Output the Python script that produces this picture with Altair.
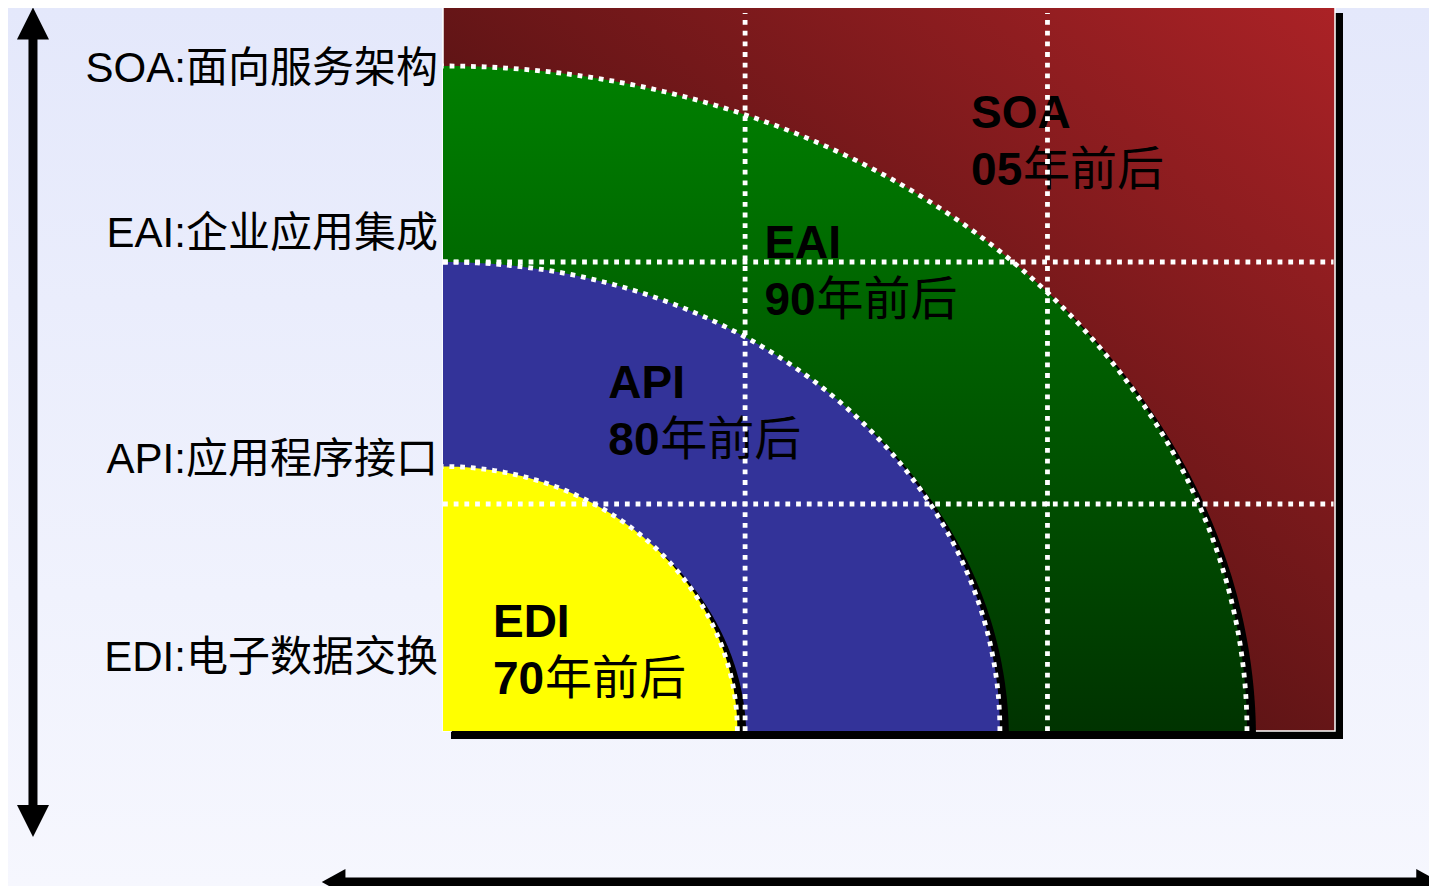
import altair as alt
import pandas as pd

# ---------------- data (diagram units: one grid cell ~ 1) ----------------
RING_NAMES = ["EAI", "API", "EDI"]          # quarter rings, outer to inner
RING_RX = [2.704, 1.873, 0.990]             # horizontal radius
RING_RY = [2.748, 1.938, 1.093]             # vertical radius

TECHS = ["SOA", "EAI", "API", "EDI"]
TECH_CN = ["面向服务架构", "企业应用集成", "应用程序接口", "电子数据交换"]
ERAS = ["05", "90", "80", "70"]
ERA_SUFFIX = "年前后"

GRID_COLS = [1.016, 2.033]
GRID_ROWS = [0.938, 1.938]

# ---------------- layout ----------------
W, H = 1421, 878
LEFT_LABEL_X = -0.017
LEFT_LABEL_Y = [2.682, 2.000, 1.066, 0.249]
INNER_X = [1.776, 1.081, 0.556, 0.168]
INNER_Y = [2.492, 1.955, 1.374, 0.390]

XS = alt.Scale(domain=[0, 3], range=[435, 1327], nice=False, zero=False)
YS = alt.Scale(domain=[0, 3], range=[723, -3], nice=False, zero=False)

LATIN = "Liberation Sans, Noto Sans CJK SC"
CJK = "Noto Sans CJK SC"


def X(f, **kw):
    return alt.X(f, type="quantitative", scale=XS, axis=None, **kw)


def Y(f, **kw):
    return alt.Y(f, type="quantitative", scale=YS, axis=None, **kw)


RED = {"gradient": "linear", "x1": 1, "y1": 0, "x2": 0, "y2": 1,
       "stops": [{"offset": 0, "color": "#ab2226"},
                 {"offset": 0.6, "color": "#581314"},
                 {"offset": 1, "color": "#3a0b0b"}]}
GREEN = {"gradient": "linear", "x1": 0, "y1": 0, "x2": 0, "y2": 1,
         "stops": [{"offset": 0, "color": "#008000"},
                   {"offset": 1, "color": "#003300"}]}
BG = {"gradient": "linear", "x1": 0, "y1": 0, "x2": 0, "y2": 1,
      "stops": [{"offset": 0, "color": "#e4e8fb"},
                {"offset": 1, "color": "#f6f7fe"}]}
RING_FILL = [GREEN, "#333399", "#ffff00"]

DOT = dict(strokeWidth=4.8, strokeDash=[4.8, 5.9], strokeCap="butt")

layers = []

# background
bg = alt.Chart(pd.DataFrame({"a": [0]})).mark_rect(fill=BG).encode(
    x=alt.value(0), x2=alt.value(W), y=alt.value(0), y2=alt.value(H))
layers.append(bg)

# frame
frame_df = pd.DataFrame({"x0": [0], "x1": [3], "y0": [0], "y1": [3]})
frame = alt.Chart(frame_df)
layers.append(frame.mark_rect(fill="black", xOffset=8, x2Offset=8, yOffset=8, y2Offset=8).encode(
    x=X("x0"), x2="x1", y=Y("y0"), y2="y1"))
layers.append(frame.mark_rect(fill=RED, stroke="white", strokeWidth=1.5).encode(
    x=X("x0"), x2="x1", y=Y("y0"), y2="y1"))

# quarter rings
ring_df = pd.DataFrame({"name": RING_NAMES, "rx": RING_RX, "ry": RING_RY})
for name, fill in zip(RING_NAMES, RING_FILL):
    src = (alt.Chart(ring_df)
           .transform_filter(alt.datum.name == name)
           .transform_calculate(deg="sequence(0, 90.5, 0.5)")
           .transform_flatten(["deg"])
           .transform_calculate(px="datum.rx * cos(datum.deg * PI / 180)",
                                py="datum.ry * sin(datum.deg * PI / 180)",
                                base="0"))
    layers.append(src.mark_area(fill="black", opacity=1, xOffset=9, yOffset=8, y2Offset=8).encode(
        x=X("px"), y=Y("py"), y2=alt.Y2("base")))
    layers.append(src.mark_area(fill=fill, opacity=1).encode(
        x=X("px"), y=Y("py"), y2=alt.Y2("base")))
    layers.append(src.mark_line(stroke="white", **DOT).encode(
        x=X("px"), y=Y("py"), order=alt.Order("deg:Q")))

# in-chart labels
inner_df = pd.DataFrame({"tech": TECHS, "era": ERAS, "suffix": [ERA_SUFFIX] * 4,
                         "x": INNER_X, "y": INNER_Y})
inner = alt.Chart(inner_df)
layers.append(inner.mark_text(align="left", baseline="alphabetic", font=LATIN, fontSize=46,
                              fontWeight="bold", color="black").encode(
    x=X("x"), y=Y("y"), text="tech:N"))
layers.append(inner.mark_text(align="left", baseline="alphabetic", font=LATIN, fontSize=46,
                              fontWeight="bold", color="black", dy=57).encode(
    x=X("x"), y=Y("y"), text="era:N"))
layers.append(inner.mark_text(align="left", baseline="alphabetic", font=CJK, fontSize=47,
                              fontWeight="normal", color="black", dy=57, dx=52).encode(
    x=X("x"), y=Y("y"), text="suffix:N"))

# grid
gcol = pd.DataFrame({"x": GRID_COLS, "y0": [0, 0], "y1": [2.967, 2.967]})
grow = pd.DataFrame({"y": GRID_ROWS, "x0": [0, 0], "x1": [2.995, 2.995]})
layers.append(alt.Chart(gcol).mark_rule(color="white", **DOT).encode(
    x=X("x"), y=Y("y0"), y2="y1"))
layers.append(alt.Chart(grow).mark_rule(color="white", **DOT).encode(
    y=Y("y"), x=X("x0"), x2="x1"))

# left labels
left_df = pd.DataFrame({"label": [f"{t}:{c}" for t, c in zip(TECHS, TECH_CN)],
                        "x": [LEFT_LABEL_X] * 4, "y": LEFT_LABEL_Y})
layers.append(alt.Chart(left_df).mark_text(align="right", baseline="alphabetic", font=LATIN,
                                           fontSize=42, color="black").encode(
    x=X("x"), y=Y("y"), text="label:N"))

# arrows
vshaft = pd.DataFrame({"x": [-1.379], "y0": [-0.330], "y1": [2.880]})
hshaft = pd.DataFrame({"y": [-0.624], "x0": [-0.345], "x1": [3.290]})
layers.append(alt.Chart(vshaft).mark_rule(color="black", strokeWidth=9, strokeCap="butt").encode(
    x=X("x"), y=Y("y0"), y2="y1"))
layers.append(alt.Chart(hshaft).mark_rule(color="black", strokeWidth=9, strokeCap="butt").encode(
    y=Y("y"), x=X("x0"), x2="x1"))
heads = [
    ("M0,-1L1,1L-1,1Z", -1.379, 2.924, 1024),
    ("M0,1L1,-1L-1,-1Z", -1.379, -0.372, 1024),
    ("M-1,0L1,-1.1L1,1.1Z", -0.368, -0.624, 560),
    ("M1,0L-1,-1.1L-1,1.1Z", 3.313, -0.624, 560),
]
for shape, hx, hy, size in heads:
    layers.append(alt.Chart(pd.DataFrame({"x": [hx], "y": [hy]})).mark_point(
        shape=shape, size=size, filled=True, fill="black", strokeWidth=0, opacity=1).encode(
        x=X("x"), y=Y("y")))

chart = alt.layer(*layers).properties(
    width=W, height=H, padding=0, autosize="none", background="#eef0fc"
).configure_view(stroke=None)

chart.save("out.html", embed_options={"renderer": "svg", "actions": False})
